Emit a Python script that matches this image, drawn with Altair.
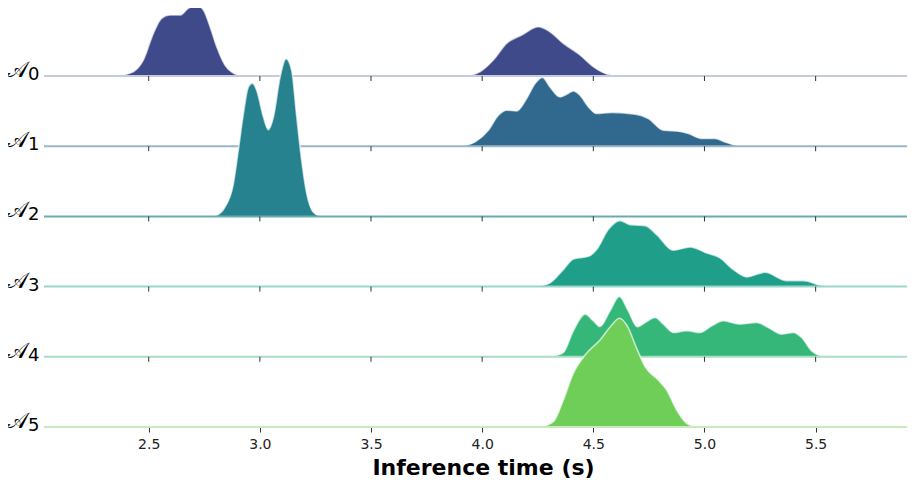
import altair as alt
import pandas as pd

# ---- data ----
row_labels = ["0", "1", "2", "3", "4", "5"]
fill_colors = ["#3e4a89", "#31688e", "#26828e", "#1f9e89", "#35b779", "#6ece58"]
base_colors = ["#c6cadd", "#9bb6c8", "#6aabb1", "#9bd5ca", "#a9ddc4", "#c9e9bd"]

tick_values = [2.5, 3.0, 3.5, 4.0, 4.5, 5.0, 5.5]

# time (s) and ridge height (px-equivalent data units) for each config
a0_t = [2.356, 2.431, 2.476, 2.521, 2.558, 2.596, 2.641, 2.678, 2.713, 2.746, 2.776, 2.806, 2.843, 2.882, 2.927,
        3.915, 3.990, 4.050, 4.110, 4.178, 4.253, 4.305, 4.365, 4.440, 4.500, 4.560, 4.620]
a0_h = [0, 4.3, 16, 42.7, 57.7, 61, 61, 67.7, 71, 66, 49.3, 29.3, 11, 2.7, 0,
        0, 4.3, 16, 32.7, 41, 49.3, 44.3, 32.7, 21, 9.3, 2, 0]

a1_t = [3.908, 3.968, 4.028, 4.073, 4.110, 4.155, 4.200, 4.238, 4.271, 4.305, 4.350, 4.380, 4.410, 4.440,
        4.478, 4.515, 4.583, 4.688, 4.747, 4.815, 4.882, 4.927, 4.988, 5.047, 5.092, 5.152]
a1_h = [0, 4.3, 16, 31, 36, 35.3, 47.7, 62.7, 68.7, 59.3, 49.3, 52, 55.3, 51,
        39.3, 32.7, 33.7, 32, 27.7, 16, 15, 12.7, 7.7, 7.7, 4.3, 0]

a2_t = [2.798, 2.843, 2.881, 2.903, 2.926, 2.948, 2.966, 2.986, 3.016, 3.038, 3.061, 3.091, 3.118, 3.143,
        3.166, 3.188, 3.211, 3.240, 3.271]
a2_h = [0, 9.3, 32.7, 66, 102.7, 129.3, 133.3, 126, 99.3, 86.7, 99.3, 139.3, 157.7, 146,
        99.3, 56, 22.7, 4.3, 0]

a3_t = [4.245, 4.305, 4.365, 4.410, 4.478, 4.515, 4.567, 4.620, 4.665, 4.733, 4.785, 4.860, 4.935, 5.010,
        5.070, 5.130, 5.190, 5.272, 5.370, 5.445, 5.520, 5.565]
a3_h = [0, 3.7, 17, 27.7, 30.3, 37, 57, 66, 62, 61, 52, 36.3, 39.7, 33.7,
        28.7, 17, 9.7, 14.3, 6, 6, 1.3, 0]

a4_t = [4.305, 4.365, 4.410, 4.463, 4.500, 4.530, 4.575, 4.617, 4.657, 4.698, 4.733, 4.778, 4.815, 4.860,
        4.920, 4.980, 5.033, 5.085, 5.160, 5.235, 5.287, 5.348, 5.400, 5.437, 5.482, 5.535]
a4_h = [0, 4.3, 26, 42.7, 36, 30.3, 46, 60.3, 46, 30, 34.3, 39.3, 32.7, 24.3,
        26, 24.3, 31, 36, 32.7, 34.3, 29.3, 22.7, 24.3, 19.3, 6, 0]

a5_t = [4.260, 4.320, 4.365, 4.410, 4.463, 4.530, 4.583, 4.617, 4.650, 4.695, 4.733, 4.792, 4.830, 4.875,
        4.920, 4.965]
a5_h = [0, 5.3, 27, 53.7, 72, 87, 102, 108.7, 102, 78.7, 60.3, 47, 37, 17, 3.7, 0]

series_t = [a0_t, a1_t, a2_t, a3_t, a4_t, a5_t]
series_h = [a0_h, a1_h, a2_h, a3_h, a4_h, a5_h]

ROW_STEP = 70.2
X_DOMAIN = [2.029, 5.911]
Y_DOMAIN = [0, 419]

x_scale = alt.Scale(domain=X_DOMAIN, nice=False, zero=False)
y_scale = alt.Scale(domain=Y_DOMAIN, nice=False, zero=False)
x_axis = alt.Axis(values=tick_values, format=".1f", tickSize=5, tickColor="#333333", tickWidth=1,
                  domain=False, grid=False, labelFont="DejaVu Sans", labelFontSize=14,
                  labelColor="#222222", labelPadding=5, title="Inference time (s)",
                  titleFont="DejaVu Sans", titleFontSize=22, titleFontWeight="bold",
                  titleColor="black", titlePadding=6, titleX=439, titleAnchor="middle")

layers = []
n = len(row_labels)
for i in range(n):
    offset = (n - 1 - i) * ROW_STEP
    df = pd.DataFrame({"t": series_t[i], "h": series_h[i]})
    df["y"] = offset + df["h"]
    df["y0"] = offset
    base = alt.Chart(df)
    area = base.mark_area(color=fill_colors[i], interpolate="monotone", clip=False).encode(
        x=alt.X("t:Q", scale=x_scale, axis=x_axis),
        y=alt.Y("y:Q", scale=y_scale, axis=None),
        y2="y0:Q",
    )
    outline = base.mark_line(color="white", strokeWidth=1.6, opacity=0.65, interpolate="monotone",
                              clip=False).encode(
        x=alt.X("t:Q", scale=x_scale, axis=x_axis),
        y=alt.Y("y:Q", scale=y_scale, axis=None),
    )
    bl = pd.DataFrame({"x0": [X_DOMAIN[0]], "x1": [X_DOMAIN[1]], "yb": [offset]})
    baseline = alt.Chart(bl).mark_rule(color=base_colors[i], strokeWidth=2).encode(
        x=alt.X("x0:Q", scale=x_scale, axis=x_axis),
        x2="x1:Q",
        y=alt.Y("yb:Q", scale=y_scale, axis=None),
    )
    layers += [area, outline, baseline]
    if i < n - 1:
        tk = pd.DataFrame({"t": tick_values})
        tk["ya"] = offset
        tk["yb"] = offset - 5
        ticks = alt.Chart(tk).mark_rule(color="#333333", strokeWidth=1).encode(
            x=alt.X("t:Q", scale=x_scale, axis=x_axis),
            y=alt.Y("ya:Q", scale=y_scale, axis=None),
            y2="yb:Q",
        )
        layers.append(ticks)
    lab = pd.DataFrame({"yl": [offset], "a": ["\U0001D49C"], "d": [row_labels[i]]})
    a_text = alt.Chart(lab).mark_text(align="right", baseline="alphabetic", fontSize=22,
                                      font="DejaVu Sans", color="black", dy=1).encode(
        x=alt.value(-16),
        y=alt.Y("yl:Q", scale=y_scale, axis=None),
        text="a:N",
    )
    d_text = alt.Chart(lab).mark_text(align="left", baseline="alphabetic", fontSize=18,
                                      font="DejaVu Sans", color="black", dy=4).encode(
        x=alt.value(-16),
        y=alt.Y("yl:Q", scale=y_scale, axis=None),
        text="d:N",
    )
    layers += [a_text, d_text]

chart = alt.layer(*layers).properties(
    width=863,
    height=419,
    autosize=alt.AutoSizeParams(type="none"),
    padding={"left": 36, "top": 0, "right": 0, "bottom": 51},
    background="white",
).configure_view(stroke=None)

chart.save("out.html", embed_options={"renderer": "svg", "actions": False})
